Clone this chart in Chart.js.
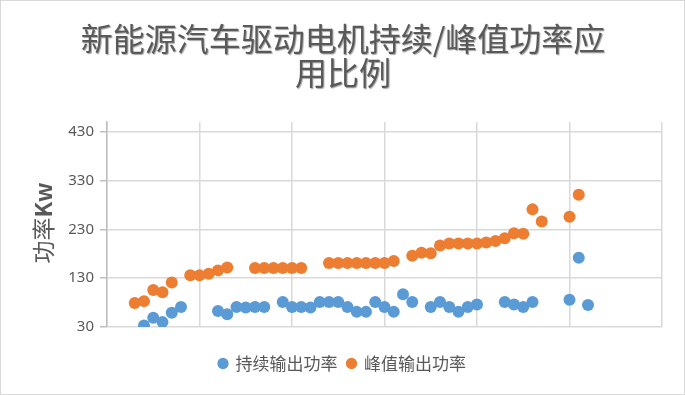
<!DOCTYPE html>
<html>
<head>
<meta charset="utf-8">
<script src="https://cdn.jsdelivr.net/npm/chart.js@4.4.1/dist/chart.umd.min.js"></script>
<style>
  html, body { margin: 0; padding: 0; background: #fff; }
  #wrap { width: 685px; height: 395px; box-sizing: border-box; border: 1px solid #d9d9d9; }
  canvas { display: block; }
</style>
</head>
<body>
<div id="wrap"><canvas id="powerChart" width="683" height="393"></canvas></div>
<script>
// --- 數據 ---
const titleLines = ["新能源汽车驱动电机持续/峰值功率应", "用比例"];
const seriesNames = ["持续输出功率", "峰值输出功率"];
const yTicks = [30, 130, 230, 330, 430];

// 持续输出功率 (x = 序號, y = kW)
const ratedX = [4, 5, 6, 7, 8, 12, 13, 14, 15, 16, 17, 19, 20, 21, 22, 23, 24, 25, 26, 27, 28, 29, 30, 31, 32, 33, 35, 36, 37, 38, 39, 40, 43, 44, 45, 46, 50, 51, 52];
const ratedY = [33, 49, 40, 59, 71, 63, 56, 71, 70, 71, 71, 81, 71, 71, 70, 81, 81, 81, 71, 61, 61, 81, 71, 61, 97, 81, 71, 81, 71, 61, 71, 76, 81, 76, 71, 81, 86, 172, 75];

// 峰值輸出功率
const peakX = [3, 4, 5, 6, 7, 9, 10, 11, 12, 13, 16, 17, 18, 19, 20, 21, 24, 25, 26, 27, 28, 29, 30, 31, 33, 34, 35, 36, 37, 38, 39, 40, 41, 42, 43, 44, 45, 46, 47, 50, 51];
const peakY = [79, 83, 106, 101, 121, 136, 136, 139, 146, 152, 151, 151, 151, 151, 151, 151, 161, 161, 161, 161, 161, 161, 161, 165, 176, 182, 181, 197, 201, 201, 201, 201, 203, 206, 212, 222, 221, 271, 246, 256, 301];

const toPoints = (xs, ys) => xs.map((x, i) => ({ x: x, y: ys[i] }));

const textColor = "#595959";
const gridColor = "#d9d9d9";
const axisColor = "#bfbfbf";

// 標題與 Y 軸標題 (帶陰影)
const textPlugin = {
    id: "chartTexts",
    afterDraw(chart) {
        const ctx = chart.ctx;
        ctx.save();
        ctx.fillStyle = textColor;
        ctx.shadowColor = "rgba(0,0,0,0.35)";
        ctx.shadowOffsetX = 1;
        ctx.shadowOffsetY = 1;
        ctx.shadowBlur = 1;
        ctx.textAlign = "center";
        ctx.textBaseline = "middle";
        ctx.font = '32px "Noto Sans CJK SC"';
        ctx.fillText(titleLines[0], 342, 38);
        ctx.fillText(titleLines[1], 342, 72);
        ctx.restore();

        // 功率Kw
        ctx.save();
        ctx.fillStyle = textColor;
        ctx.translate(42, 222);
        ctx.rotate(-Math.PI / 2);
        ctx.textBaseline = "middle";
        ctx.textAlign = "left";
        const f1 = '23px "Noto Sans CJK SC"';
        const f2 = 'bold 23px "Noto Sans CJK SC"';
        ctx.font = f1;
        const w1 = ctx.measureText("功率").width;
        ctx.font = f2;
        const w2 = ctx.measureText("Kw").width;
        const start = -(w1 + w2) / 2;
        ctx.font = f1;
        ctx.fillText("功率", start, 0);
        ctx.font = f2;
        ctx.fillText("Kw", start + w1, 0);
        ctx.restore();
    }
};

new Chart(document.getElementById("powerChart"), {
    type: "scatter",
    data: {
        datasets: [
            {
                label: seriesNames[0],
                data: toPoints(ratedX, ratedY),
                backgroundColor: "#5B9BD5",
                borderColor: "#5B9BD5",
                pointRadius: 6,
                pointHoverRadius: 6,
                borderWidth: 0
            },
            {
                label: seriesNames[1],
                data: toPoints(peakX, peakY),
                backgroundColor: "#ED7D31",
                borderColor: "#ED7D31",
                pointRadius: 6,
                pointHoverRadius: 6,
                borderWidth: 0
            }
        ]
    },
    options: {
        responsive: false,
        animation: false,
        layout: { padding: { left: 22, right: 22, top: 121, bottom: 12 } },
        scales: {
            x: {
                type: "linear",
                min: 0,
                max: 60,
                ticks: { display: false, stepSize: 10 },
                grid: { color: gridColor, lineWidth: 1.5, drawTicks: false },
                border: { display: false },
                afterFit: (scale) => { scale.height = 18; }
            },
            y: {
                min: 30,
                max: 450,
                afterBuildTicks: (scale) => { scale.ticks = yTicks.map(v => ({ value: v })); },
                ticks: {
                    color: textColor,
                    padding: 6,
                    font: { family: '"Noto Sans", sans-serif', size: 15 }
                },
                grid: { color: gridColor, lineWidth: 1.5, tickLength: 7, tickColor: axisColor },
                border: { color: axisColor, width: 1.5 },
                afterFit: (scale) => { scale.width = 84; }
            }
        },
        plugins: {
            title: { display: false },
            tooltip: { enabled: false },
            legend: {
                position: "bottom",
                labels: {
                    usePointStyle: true,
                    pointStyle: "circle",
                    boxWidth: 8,
                    boxHeight: 8,
                    padding: 10,
                    color: textColor,
                    font: { family: '"Noto Sans CJK SC"', size: 17 }
                }
            }
        }
    },
    plugins: [textPlugin]
});
</script>
</body>
</html>
